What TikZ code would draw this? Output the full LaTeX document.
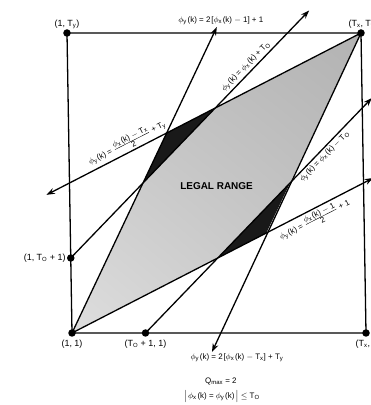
\documentclass[tikz,border=0pt]{standalone}
\usepackage{fontspec}
\setmainfont{Liberation Sans}
\usetikzlibrary{arrows.meta, shadings}

\newcommand{\phiy}{$\phi$\textsubscript{y}}
\newcommand{\phix}{$\phi$\textsubscript{x}}
\newcommand{\fra}[2]{$\frac{\mbox{#1}}{\mbox{#2}}$}
\newcommand{\gap}{\hspace{0.8bp}}

\begin{document}
\begin{tikzpicture}[x=24.5bp, y=25bp, >={Stealth[length=8.5bp, width=6bp]},
    ln/.style={line width=1.3pt},
    lbl/.style={font=\fontsize{9}{10}\selectfont, inner sep=2bp},
    eq/.style={font=\fontsize{8}{9.5}\selectfont, inner sep=2bp},
    dot/.style={circle, fill, inner sep=0pt, minimum size=7.5bp}]
    % 図の範囲
    \useasboundingbox (-1.956,-1.88) rectangle (13.187,14.32);

    \begin{scope}[xslant=-0.0167]
    % 四隅と T_O の点
    \coordinate (O) at (1,1);
    \coordinate (Tx) at (13,1);
    \coordinate (Txy) at (13,13);
    \coordinate (Ty) at (1,13);
    \coordinate (Lo) at (1,4);
    \coordinate (Bo) at (4,1);

    % 矢印の先端
    \coordinate (t1) at (7.12,13.24);
    \coordinate (t2) at (10.9,13.9);
    \coordinate (t3) at (13.4,10.4);
    \coordinate (t4) at (13.4,7.2);
    \coordinate (t5) at (0.05,6.525);
    \coordinate (t6) at (6.7,0.24);

    % 交点
    \coordinate (a) at (4,7);
    \coordinate (b) at (5,9);
    \coordinate (c) at (7,10);
    \coordinate (d) at (7,4);
    \coordinate (e) at (9,5);
    \coordinate (f) at (10,7);

    % 領域の塗り
    \shade[lower left=black!13, upper right=black!30, upper left=black!24, lower right=black!22]
        (O) -- (a) -- (c) -- (Txy) -- (f) -- (d) -- cycle;
    \fill[black!90] (a) -- (b) -- (c) -- cycle;
    \fill[black!90] (d) -- (e) -- (f) -- cycle;
    \node[font=\bfseries\fontsize{10}{12}\selectfont] (legal) at (7,6.86) {LEGAL RANGE};

    % 枠
    \draw[ln] (O) -- (Tx) -- (Txy) -- (Ty) -- cycle;

    % 6本の直線
    \draw[ln, ->] (O) -- (t1)
        node[eq, above, xshift=4bp] (lb1) {\phiy\gap(k) = 2\gap[\phix\gap(k) $-$ 1] + 1};
    \draw[ln, ->] (Lo) -- (t2)
        node[eq, pos=0.755, sloped, above] (lb2) {\phiy\gap(k) = \phix\gap(k) + T\textsubscript{O}};
    \draw[ln, ->] (Bo) -- (t3)
        node[eq, pos=0.77, sloped, below] (lb3) {\phiy\gap(k) = \phix\gap(k) $-$ T\textsubscript{O}};
    \draw[ln, ->] (O) -- (t4)
        node[eq, pos=0.79, sloped, below] (lb4) {\phiy\gap(k) = \fra{\phix\gap(k) $-$ 1}{2} + 1};
    \draw[ln, <-] (t5) -- (Txy)
        node[eq, pos=0.27, sloped, above] (lb5) {\phiy\gap(k) = \fra{\phix\gap(k) $-$ T\textsubscript{x}}{2} + T\textsubscript{y}};
    \draw[ln, <-] (t6) -- (Txy);
    \node[eq, anchor=north, xshift=25bp] (lb6) at (t6)
        {\phiy\gap(k) = 2\gap[\phix\gap(k) $-$ T\textsubscript{x}] + T\textsubscript{y}};

    % 点とラベル
    \foreach \p in {O,Tx,Txy,Ty,Lo,Bo}
        \node[dot] (d\p) at (\p) {};
    \node[lbl, below=5bp] (lbO) at (O) {(1, 1)};
    \node[lbl, below=5bp] (lbBo) at (Bo) {(T\textsubscript{O} + 1, 1)};
    \node[lbl, below=5bp, xshift=2bp] (lbTx) at (Tx) {(T\textsubscript{x}, 1)};
    \node[lbl, left=3bp] (lbLo) at (Lo) {(1, T\textsubscript{O} + 1)};
    \node[lbl, above=2bp] (lbTy) at (Ty) {(1, T\textsubscript{y})};
    \node[lbl, above=2bp, xshift=2bp] (lbTxy) at (Txy) {(T\textsubscript{x}, T\textsubscript{y})};
    \end{scope}

    % 下の条件
    \node[eq] (qmax) at (7.06,-0.92) {Q\textsubscript{max} = 2};
    \node[eq] (cond) at (7.1,-1.52) {$\big|$\gap\phix\gap(k) = \phiy\gap(k)\gap$\big|$ $\leq$ T\textsubscript{O}};
\end{tikzpicture}
\end{document}
